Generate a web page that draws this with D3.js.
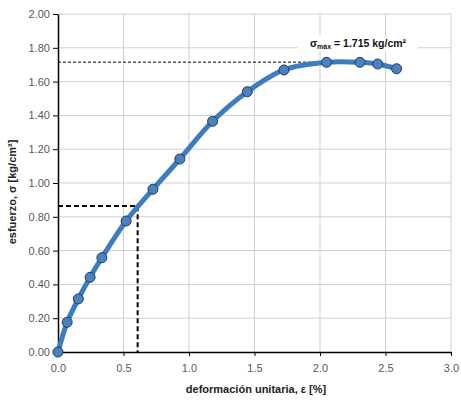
<!DOCTYPE html>
<meta charset="utf-8">
<html>
<head>
<style>
  body { margin: 0; background: #fff; }
  text { font-family: "Liberation Sans", Arial, sans-serif; }
</style>
</head>
<body>
<svg width="461" height="403"></svg>
<script src="https://d3js.org/d3.v7.min.js"></script>
<script>
// strain [%] and stress [kg/cm2]
var strain = [0.0, 0.07, 0.155, 0.245, 0.335, 0.52, 0.725, 0.93, 1.18, 1.445, 1.725, 2.05, 2.305, 2.44, 2.585];
var stress = [0.0, 0.176, 0.314, 0.442, 0.558, 0.775, 0.963, 1.142, 1.365, 1.54, 1.669, 1.714, 1.714, 1.704, 1.676];
var xTicks = [0, 0.5, 1.0, 1.5, 2.0, 2.5, 3.0];
var yTicks = [0, 0.2, 0.4, 0.6, 0.8, 1.0, 1.2, 1.4, 1.6, 1.8, 2.0];
var sigmaMax = 1.715;
var sigmaRef = 0.864, strainRef = 0.608;

var svg = d3.select('svg');
// plot box (named so they don't clash with window.top etc.)
var pLeft = 58, pRight = 451, pTop = 14, pBottom = 352;

var x = d3.scaleLinear().domain([0, 3]).range([pLeft, pRight]);
var y = d3.scaleLinear().domain([0, 2]).range([pBottom, pTop]);

// gridlines
svg.append('g').selectAll('line')
  .data(yTicks.slice(1))
  .enter().append('line')
  .attr('x1', pLeft).attr('x2', pRight)
  .attr('y1', d => y(d)).attr('y2', d => y(d))
  .attr('stroke', '#cfcfcf').attr('stroke-width', 1);
svg.append('g').selectAll('line')
  .data(xTicks.slice(1))
  .enter().append('line')
  .attr('x1', d => x(d)).attr('x2', d => x(d))
  .attr('y1', pTop).attr('y2', pBottom)
  .attr('stroke', '#cfcfcf').attr('stroke-width', 1);

// axes
var xAxis = d3.axisBottom(x).tickValues(xTicks).tickFormat(d3.format('.1f')).tickSizeInner(4).tickSizeOuter(0);
var yAxis = d3.axisLeft(y).tickValues(yTicks).tickFormat(d3.format('.2f')).tickSizeInner(5).tickSizeOuter(0);

var gx = svg.append('g').attr('transform', 'translate(0,' + pBottom + ')').call(xAxis);
var gy = svg.append('g').attr('transform', 'translate(' + pLeft + ',0)').call(yAxis);
[gx, gy].forEach(function(g) {
  g.select('.domain').attr('stroke', '#000').attr('stroke-width', 1.5);
  g.selectAll('.tick line').attr('stroke', '#000');
  g.selectAll('.tick text').attr('fill', '#595959').style('font-size', '11px')
    .style('font-family', '"Liberation Sans", Arial, sans-serif');
});
gx.selectAll('.tick text').attr('dy', '1.2em');

// dashed reference lines
svg.append('path')
  .attr('d', 'M' + x(0) + ',' + y(sigmaMax) + 'H' + x(2.05))
  .attr('stroke', '#000').attr('stroke-width', 1).attr('stroke-dasharray', '3,2').attr('fill', 'none');
svg.append('path')
  .attr('d', 'M' + x(0) + ',' + y(sigmaRef) + 'H' + x(strainRef) + 'V' + y(0))
  .attr('stroke', '#000').attr('stroke-width', 2).attr('stroke-dasharray', '5,3').attr('fill', 'none');

// curve
var pts = strain.map((d, i) => [d, stress[i]]);
var line = d3.line().x(d => x(d[0])).y(d => y(d[1])).curve(d3.curveCatmullRom.alpha(0.5));
svg.append('path').datum(pts)
  .attr('d', line)
  .attr('fill', 'none').attr('stroke', '#3d7cc0').attr('stroke-width', 5)
  .attr('stroke-linecap', 'round');

svg.append('g').selectAll('circle')
  .data(pts).enter().append('circle')
  .attr('cx', d => x(d[0])).attr('cy', d => y(d[1]))
  .attr('r', 5)
  .attr('fill', '#4a82c0').attr('stroke', '#1f3a5c').attr('stroke-width', 1);

// annotation
var ann = svg.append('g').attr('transform', 'translate(358,47)');
ann.append('rect').attr('x', -60).attr('y', -11).attr('width', 120).attr('height', 15).attr('fill', '#fff');
var t = ann.append('text').attr('text-anchor', 'middle').attr('font-weight', 'bold').style('font-size', '10.5px').attr('fill', '#111');
t.append('tspan').text('σ');
t.append('tspan').attr('dy', 2).style('font-size', '7px').text('máx');
t.append('tspan').attr('dy', -2).text(' = 1.715 kg/cm²');

// axis titles
svg.append('text')
  .attr('x', 256).attr('y', 393)
  .attr('text-anchor', 'middle').attr('font-weight', 'bold').style('font-size', '11px').attr('fill', '#222')
  .text('deformación unitaria, ε [%]');
svg.append('text')
  .attr('transform', 'translate(16,' + 192 + ') rotate(-90)')
  .attr('text-anchor', 'middle').attr('font-weight', 'bold').style('font-size', '11px').attr('fill', '#222')
  .text('esfuerzo, σ [kg/cm²]');
</script>
</body>
</html>
